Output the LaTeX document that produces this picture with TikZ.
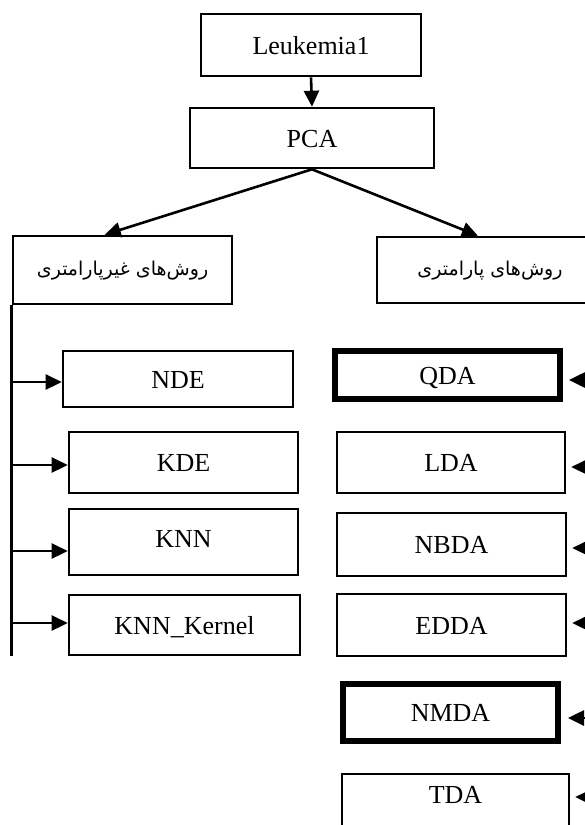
\documentclass[tikz,border=0pt]{standalone}
\usepackage{fontspec}
\setmainfont{Liberation Serif}
\newfontfamily\farsifont[Script=Arabic]{DejaVu Sans}
\TeXXeTstate=1
\usetikzlibrary{arrows.meta,calc}
\tikzset{
  box/.style={draw, line width=2.6pt, inner sep=0pt, font=\fontsize{26}{30}\selectfont,
    text height=18pt, text depth=0pt},
  thickbox/.style={box, line width=6pt},
  fabox/.style={box, font=\farsifont\fontsize{19}{24}\selectfont, text height=16pt, text depth=6pt},
  arr/.style={line width=2.6pt, -{Triangle[length=16pt,width=15pt]}},
  trunk/.style={line width=2.8pt}
}
\begin{document}
\begin{tikzpicture}[x=1pt,y=-1pt]
\useasboundingbox (0,0) rectangle (585,825);
\clip (0,0) rectangle (585,825);
\coordinate (rx) at (600,0);
% top
\node[box, minimum width=220pt, minimum height=62pt] (leuk) at (311,45) {Leukemia1};
\node[box, minimum width=244pt, minimum height=60pt] (pca) at (312,138) {PCA};
% branches
\node[fabox, minimum width=219pt, minimum height=68pt] (nonpar) at (122.5,270) {\beginR روش‌های غیرپارامتری\endR};
\node[fabox, minimum width=226pt, minimum height=66pt] (par) at (490,270) {\beginR روش‌های پارامتری\endR};
% left column
\node[box, minimum width=230pt, minimum height=56pt] (nde) at (178,379) {NDE};
\node[box, minimum width=229pt, minimum height=61pt] (kde) at (183.5,462.5) {KDE};
\node[box, minimum width=229pt, minimum height=66pt, text depth=8pt] (knn) at (183.5,542) {KNN};
\node[box, minimum width=231pt, minimum height=60pt] (knnk) at (184.5,625) {KNN\_Kernel};
% right column
\node[thickbox, minimum width=225pt, minimum height=48pt] (qda) at (447.5,375) {QDA};
\node[box, minimum width=228pt, minimum height=61pt] (lda) at (451,462.5) {LDA};
\node[box, minimum width=229pt, minimum height=63pt] (nbda) at (451.5,544.5) {NBDA};
\node[box, minimum width=229pt, minimum height=62pt] (edda) at (451.5,625) {EDDA};
\node[thickbox, minimum width=215pt, minimum height=57pt] (nmda) at (450.5,712.5) {NMDA};
\node[box, minimum width=227pt, minimum height=76pt, text height=10pt, text depth=27pt] (tda) at (455.5,812) {TDA};
% connectors
\draw[arr] (leuk.south) -- (pca.north);
\draw[arr] (pca.south) -- ($(nonpar.north west)!0.42!(nonpar.north east)$);
\draw[arr] (pca.south) -- ($(par.north west)!0.447!(par.north east)$);
% left trunk
\coordinate (tend) at ($(nonpar.south west)+(0,351)$);
\draw[trunk] (nonpar.south west) -- (tend);
\draw[arr] ($(nde.west -| tend)+(0,3)$) -- ($(nde.west)+(0,3)$);
\draw[arr] ($(kde.west -| tend)+(0,2.5)$) -- ($(kde.west)+(0,2.5)$);
\draw[arr] ($(knn.west -| tend)+(0,9)$) -- ($(knn.west)+(0,9)$);
\draw[arr] ($(knnk.west -| tend)+(0,-2)$) -- ($(knnk.west)+(0,-2)$);
% right arrows
\draw[arr] ($(qda.east -| rx)+(0,5)$) -- ($(qda.east)+(6,5)$);
\draw[arr] ($(lda.east -| rx)+(0,4.5)$) -- ($(lda.east)+(5,4.5)$);
\draw[arr] ($(nbda.east -| rx)+(0,3.5)$) -- ($(nbda.east)+(5,3.5)$);
\draw[arr] ($(edda.east -| rx)+(0,-2)$) -- ($(edda.east)+(5,-2)$);
\draw[arr] ($(nmda.east -| rx)+(0,5.5)$) -- ($(nmda.east)+(7,5.5)$);
\draw[arr] ($(tda.east -| rx)+(0,-15)$) -- ($(tda.east)+(5,-15)$);
\end{tikzpicture}
\end{document}
